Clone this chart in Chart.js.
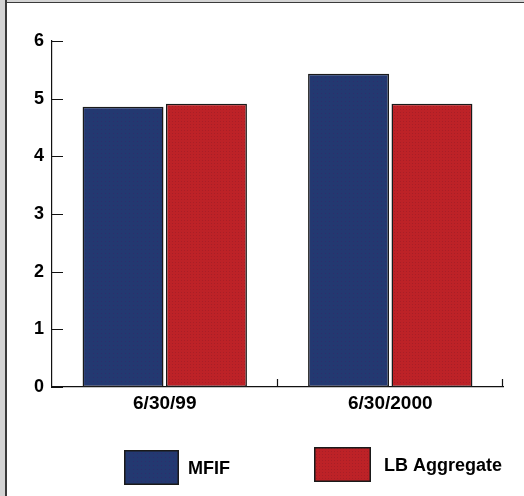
<!DOCTYPE html>
<html>
<head>
<meta charset="utf-8">
<script src="https://cdn.jsdelivr.net/npm/chart.js@4"></script>
<style>
  html, body { margin: 0; padding: 0; background: #fff; }
  #wrap { position: relative; width: 524px; height: 496px; overflow: hidden; }
  #edgeL { position: absolute; left: 0; top: 0; width: 5px; height: 496px; background: #d4d4d4; border-right: 2px solid #3a3a3a; }
  #edgeT { position: absolute; left: 0; top: 0; width: 524px; height: 2px; background: #d4d4d4; border-bottom: 1px solid #3a3a3a; }
  canvas { position: absolute; left: 0; top: 0; }
</style>
</head>
<body>
<div id="wrap">
  <div id="edgeT"></div>
  <div id="edgeL"></div>
  <canvas id="c" width="524" height="496"></canvas>
</div>
<script>
// Period labels and yields for each portfolio
const categories = ['6/30/99', '6/30/2000'];
const seriesNames = ['MFIF', 'LB Aggregate'];
const mfifValues = [4.86, 5.43];
const lbAggregateValues = [4.91, 4.91];
const yTicks = [0, 1, 2, 3, 4, 5, 6];

const FONT = { family: "'Liberation Sans', Arial, sans-serif", weight: 'bold', size: 18 };

// Small dotted fill textures for the bars
function dotPattern(base, dot, cell) {
  const c = document.createElement('canvas');
  c.width = cell; c.height = cell;
  const g = c.getContext('2d');
  g.fillStyle = base; g.fillRect(0, 0, cell, cell);
  g.fillStyle = dot; g.fillRect(1, 1, 1, 1);
  return g.createPattern(c, 'repeat');
}
const ctx = document.getElementById('c').getContext('2d');
const navyFill = dotPattern('#233971', '#2f2c6c', 4);
const redFill = dotPattern('#bd2227', '#a91e26', 3);

// Inward tick marks on both axes
const axisTicks = {
  id: 'axisTicks',
  afterDatasetsDraw(chart) {
    const { ctx, chartArea, scales } = chart;
    ctx.save();
    ctx.strokeStyle = '#111';
    ctx.lineWidth = 1.2;
    ctx.beginPath();
    scales.y.ticks.forEach(t => {
      const y = Math.round(scales.y.getPixelForValue(t.value)) + 0.5;
      ctx.moveTo(chartArea.left, y);
      ctx.lineTo(chartArea.left + 11, y);
    });
    const n = scales.x.ticks.length;
    for (let i = 1; i <= n; i++) {
      const x = Math.round(chartArea.left + (chartArea.right - chartArea.left) * i / n) - 0.5;
      ctx.moveTo(x, chartArea.bottom);
      ctx.lineTo(x, chartArea.bottom - 8);
    }
    ctx.stroke();
    ctx.restore();
  }
};

// Legend row drawn beneath the axis
const legendRow = {
  id: 'legendRow',
  afterDraw(chart) {
    const { ctx } = chart;
    const items = [
      { box: [124, 450, 55, 35], textX: 188, textY: 469 },
      { box: [314, 447, 57, 35], textX: 384, textY: 466 }
    ];
    ctx.save();
    chart.data.datasets.forEach((ds, i) => {
      const it = items[i];
      ctx.fillStyle = ds.backgroundColor;
      ctx.fillRect(...it.box);
      ctx.strokeStyle = '#1a1a1a';
      ctx.lineWidth = 1.5;
      ctx.strokeRect(it.box[0] + 0.75, it.box[1] + 0.75, it.box[2] - 1.5, it.box[3] - 1.5);
      ctx.fillStyle = '#000';
      ctx.font = `${FONT.weight} ${FONT.size}px ${FONT.family}`;
      ctx.textBaseline = 'middle';
      ctx.fillText(ds.label, it.textX, it.textY);
    });
    ctx.restore();
  }
};

new Chart(ctx, {
  type: 'bar',
  data: {
    labels: categories,
    datasets: [
      { label: seriesNames[0], data: mfifValues, backgroundColor: navyFill },
      { label: seriesNames[1], data: lbAggregateValues, backgroundColor: redFill }
    ]
  },
  options: {
    responsive: false,
    animation: false,
    events: [],
    layout: { padding: { left: 0, top: 41, right: 21, bottom: 79 } },
    datasets: {
      bar: {
        categoryPercentage: 0.74,
        barPercentage: 0.97,
        borderColor: '#1a1a1a',
        borderWidth: 1.5,
        borderSkipped: false
      }
    },
    plugins: { legend: { display: false }, tooltip: { enabled: false } },
    scales: {
      x: {
        offset: true,
        grid: { display: false, drawTicks: false },
        border: { display: true, color: '#111', width: 1.2 },
        ticks: { color: '#000', font: { ...FONT, size: 19 }, padding: 5 },
        afterFit(s) { s.height = 30; }
      },
      y: {
        min: 0, max: 6,
        afterBuildTicks(s) { s.ticks = yTicks.map(v => ({ value: v })); },
        grid: { display: false, drawTicks: false },
        border: { display: true, color: '#111', width: 1.2 },
        ticks: { color: '#000', font: FONT, padding: 8 },
        afterFit(s) { s.width = 52; }
      }
    }
  },
  plugins: [axisTicks, legendRow]
});
</script>
</body>
</html>
